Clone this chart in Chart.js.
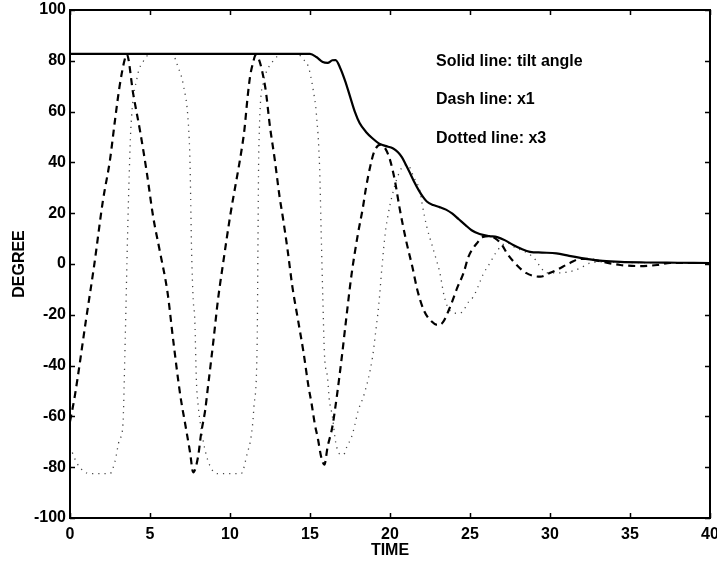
<!DOCTYPE html>
<html>
<head>
<meta charset="utf-8">
<script src="https://cdn.jsdelivr.net/npm/chart.js@4/dist/chart.umd.min.js"></script>
<style>
  html, body { margin: 0; padding: 0; background: #fff; }
  #wrap { width: 717px; height: 563px; position: relative; }
</style>
</head>
<body>
<div id="wrap"><canvas id="c" width="717" height="563"></canvas></div>
<script>
// ---- Data ----
const xTicks = [0, 5, 10, 15, 20, 25, 30, 35, 40];
const yTicks = [-100, -80, -60, -40, -20, 0, 20, 40, 60, 80, 100];

// Solid line: tilt angle
const solidTime = [0, 15.0, 15.4, 15.8, 16.1, 16.4, 16.6, 16.9, 17.2, 17.5, 17.8, 18.1, 18.5, 18.9, 19.3, 19.7, 20.2, 20.5, 20.75, 21.0, 21.25, 21.5, 21.8, 22.05, 22.3, 22.7, 23.1, 23.5, 23.9, 24.3, 24.7, 25.1, 25.6, 26.2, 26.7, 27.2, 27.7, 28.2, 28.75, 29.5, 30.4, 31.2, 31.9, 32.5, 33.3, 34.4, 36, 38, 40];
const solidDeg  = [82.7, 82.7, 81.5, 79.5, 79.2, 80.2, 80.3, 77, 72, 66, 60, 55.5, 52, 49.5, 47.5, 46.5, 45.5, 44, 42, 39, 35.8, 32.5, 29, 26.5, 24.6, 23.2, 22.4, 21.4, 19.8, 17.6, 15.4, 13.3, 11.8, 11, 10.6, 9.3, 7.5, 6, 4.8, 4.5, 4.2, 3.2, 2.4, 1.8, 1.2, 0.8, 0.6, 0.5, 0.4];

// Dash line: x1
const dashTime = [0, 0.3, 1.0, 1.5, 2.06, 2.5, 2.8, 3.1, 3.4, 3.55, 3.95, 4.4, 4.8, 5.2, 5.6, 6.1, 6.45, 6.9, 7.2, 7.5, 7.7, 8.0, 8.2, 8.45, 8.6, 8.95, 9.25, 9.6, 10.0, 10.75, 10.9, 11.1, 11.25, 11.45, 11.6, 12.2, 12.5, 12.8, 13.1, 13.3, 13.6, 13.9, 14.25, 14.6, 14.9, 15.1, 15.3, 15.5, 15.7, 15.9, 16.1, 16.4, 16.7, 17.0, 17.2, 17.6, 18.0, 18.3, 18.5, 18.75, 19.0, 19.4, 19.7, 20.0, 20.3, 20.6, 21.0, 21.4, 21.7, 22.1, 22.5, 23.0, 23.3, 23.75, 24.2, 24.6, 24.9, 25.5, 25.8, 26.2, 26.6, 27.0, 27.3, 27.8, 28.5, 29.4, 30.0, 30.4, 31.25, 31.9, 32.3, 33.3, 34.4, 35.6, 36.7, 37.5, 40];
const dashDeg  = [-62, -52, -22, -1, 25, 41, 56, 70, 80, 82.5, 67, 51.6, 36, 18.5, 5.5, -11.4, -30, -52, -63, -74, -82, -76, -66.5, -57.5, -49.6, -31, -14, 1.6, 18.5, 46, 52.8, 65.7, 73.6, 79.5, 82.3, 69.7, 54, 41, 26.4, 18.5, 5.5, -9, -22, -35, -48, -55, -63, -69, -76, -79, -72, -64, -51, -36, -25, -4, 12, 22, 30, 38, 44, 47, 45.5, 41, 33, 22, 9.4, -1.2, -10, -18, -22, -24, -23, -17, -9.4, -3.5, 2.8, 8.7, 10.6, 11, 10, 7.5, 4.3, 0.4, -3.5, -5, -3.5, -2.4, 0.4, 2, 2, 0.8, -0.4, -0.8, -0.4, 0.4, 0.4];

// Dotted line: x3
const dotTime = [0, 0.4, 0.6, 1.2, 2.5, 2.8, 3.1, 3.3, 3.45, 3.6, 3.7, 3.8, 4.2, 4.6, 5.0, 6.4, 6.75, 7.1, 7.4, 7.5, 7.6, 7.7, 7.8, 7.9, 8.0, 8.2, 8.6, 9.2, 10.7, 11.1, 11.25, 11.4, 11.5, 11.7, 11.75, 11.8, 12.1, 12.3, 12.7, 13.2, 14.3, 14.5, 14.9, 15.2, 15.4, 15.6, 15.7, 15.8, 15.9, 16.1, 16.2, 16.4, 16.6, 16.9, 17.1, 17.3, 17.6, 17.8, 18.0, 18.4, 18.9, 19.1, 19.3, 19.5, 19.7, 19.9, 20.1, 20.4, 20.75, 21.1, 21.5, 21.9, 22.0, 22.3, 22.6, 22.9, 23.1, 23.4, 23.7, 24.2, 24.5, 24.9, 25.2, 25.5, 25.8, 26.25, 26.6, 26.9, 27.3, 27.8, 28.6, 29.1, 29.4, 29.8, 30.4, 31.25, 31.9, 32.5, 33.3, 35, 40];
const dotDeg  = [-72, -78, -80, -82.5, -82.5, -78, -69, -64, -30, 12, 35, 53, 73.6, 80, 82.5, 82.5, 77.6, 70, 55, 40, 5, -14, -22, -46, -55, -65, -77, -82.5, -82.5, -74, -70.5, -64, -56, -30, 10, 45, 72, 76, 80, 82.5, 82.5, 81, 77.6, 68.5, 59, 38, 12, -13, -35, -45, -53, -60, -70, -75, -75, -72, -68, -63.4, -58, -51, -37, -27, -16, -1, 12, 20, 26, 33, 38, 39, 34, 28, 24, 14.6, 8, 1.6, -3, -13, -18, -19.4, -19, -15, -13, -9, -4.3, 0.4, 4.3, 6.7, 8.3, 6.5, 4.3, 1.6, -1.2, -3.5, -3.5, -3, -1.6, 0.4, 0.8, 0.6, 0.5];

const noteLines = ['Solid line: tilt angle', 'Dash line: x1', 'Dotted line: x3'];

// ---- Build ----
const pts = (ts, vs) => ts.map((t, i) => ({ x: t, y: vs[i] }));
const FONT = "'Liberation Sans', Arial, Helvetica, sans-serif";

const framePlugin = {
  id: 'frame',
  afterDraw(chart) {
    const { ctx, chartArea: a, scales } = chart;
    ctx.save();
    ctx.strokeStyle = '#000';
    ctx.lineWidth = 2;
    ctx.strokeRect(a.left, a.top, a.right - a.left, a.bottom - a.top);
    ctx.lineWidth = 1.5;
    const L = 5;
    ctx.beginPath();
    xTicks.forEach(v => {
      const px = Math.round(scales.x.getPixelForValue(v)) + 0.5;
      ctx.moveTo(px, a.bottom); ctx.lineTo(px, a.bottom - L);
      ctx.moveTo(px, a.top); ctx.lineTo(px, a.top + L);
    });
    yTicks.forEach(v => {
      const py = Math.round(scales.y.getPixelForValue(v)) + 0.5;
      ctx.moveTo(a.left, py); ctx.lineTo(a.left + L, py);
      ctx.moveTo(a.right, py); ctx.lineTo(a.right - L, py);
    });
    ctx.stroke();
    // annotation text
    ctx.fillStyle = '#000';
    ctx.font = 'bold 16px ' + FONT;
    ctx.textBaseline = 'middle';
    ctx.textAlign = 'left';
    const tx = 436, ys = [62, 100, 139];
    noteLines.forEach((s, i) => ctx.fillText(s, tx, ys[i]));
    ctx.restore();
  }
};

new Chart(document.getElementById('c'), {
  type: 'line',
  data: {
    datasets: [
      { label: 'tilt angle', data: pts(solidTime, solidDeg), borderColor: '#000', borderWidth: 2.2, pointRadius: 0, cubicInterpolationMode: 'monotone', fill: false },
      { label: 'x1', data: pts(dashTime, dashDeg), borderColor: '#000', borderWidth: 2.2, borderDash: [7, 5], pointRadius: 0, cubicInterpolationMode: 'monotone', fill: false },
      { label: 'x3', data: pts(dotTime, dotDeg), borderColor: '#444', borderWidth: 1.3, borderDash: [1.2, 5], pointRadius: 0, cubicInterpolationMode: 'monotone', fill: false }
    ]
  },
  options: {
    responsive: false,
    animation: false,
    devicePixelRatio: 1,
    layout: { padding: { left: 0, right: 7, top: 10, bottom: 0 } },
    plugins: { legend: { display: false }, tooltip: { enabled: false } },
    scales: {
      x: {
        type: 'linear', min: 0, max: 40,
        afterBuildTicks: s => { s.ticks = xTicks.map(v => ({ value: v })); },
        afterFit: s => { s.height = 45; s.paddingLeft = 0; s.paddingRight = 0; },
        grid: { display: false, drawTicks: false },
        border: { display: true, color: '#000', width: 2 },
        ticks: { color: '#000', padding: 7, maxRotation: 0, autoSkip: false, font: { family: FONT, size: 16, weight: 'bold' } },
        title: { display: true, text: 'TIME', color: '#000', padding: { top: 0, bottom: 3 }, font: { family: FONT, size: 16, weight: 'bold' } }
      },
      y: {
        type: 'linear', min: -100, max: 100,
        afterBuildTicks: s => { s.ticks = yTicks.map(v => ({ value: v })); },
        afterFit: s => { s.width = 70; s.paddingTop = 0; s.paddingBottom = 0; },
        grid: { display: false, drawTicks: false },
        border: { display: true, color: '#000', width: 2 },
        ticks: { color: '#000', padding: 4, autoSkip: false, font: { family: FONT, size: 16, weight: 'bold' } },
        title: { display: true, text: 'DEGREE', color: '#000', padding: { top: 10, bottom: 0 }, font: { family: FONT, size: 16, weight: 'bold' } }
      }
    }
  },
  plugins: [framePlugin]
});
</script>
</body>
</html>
